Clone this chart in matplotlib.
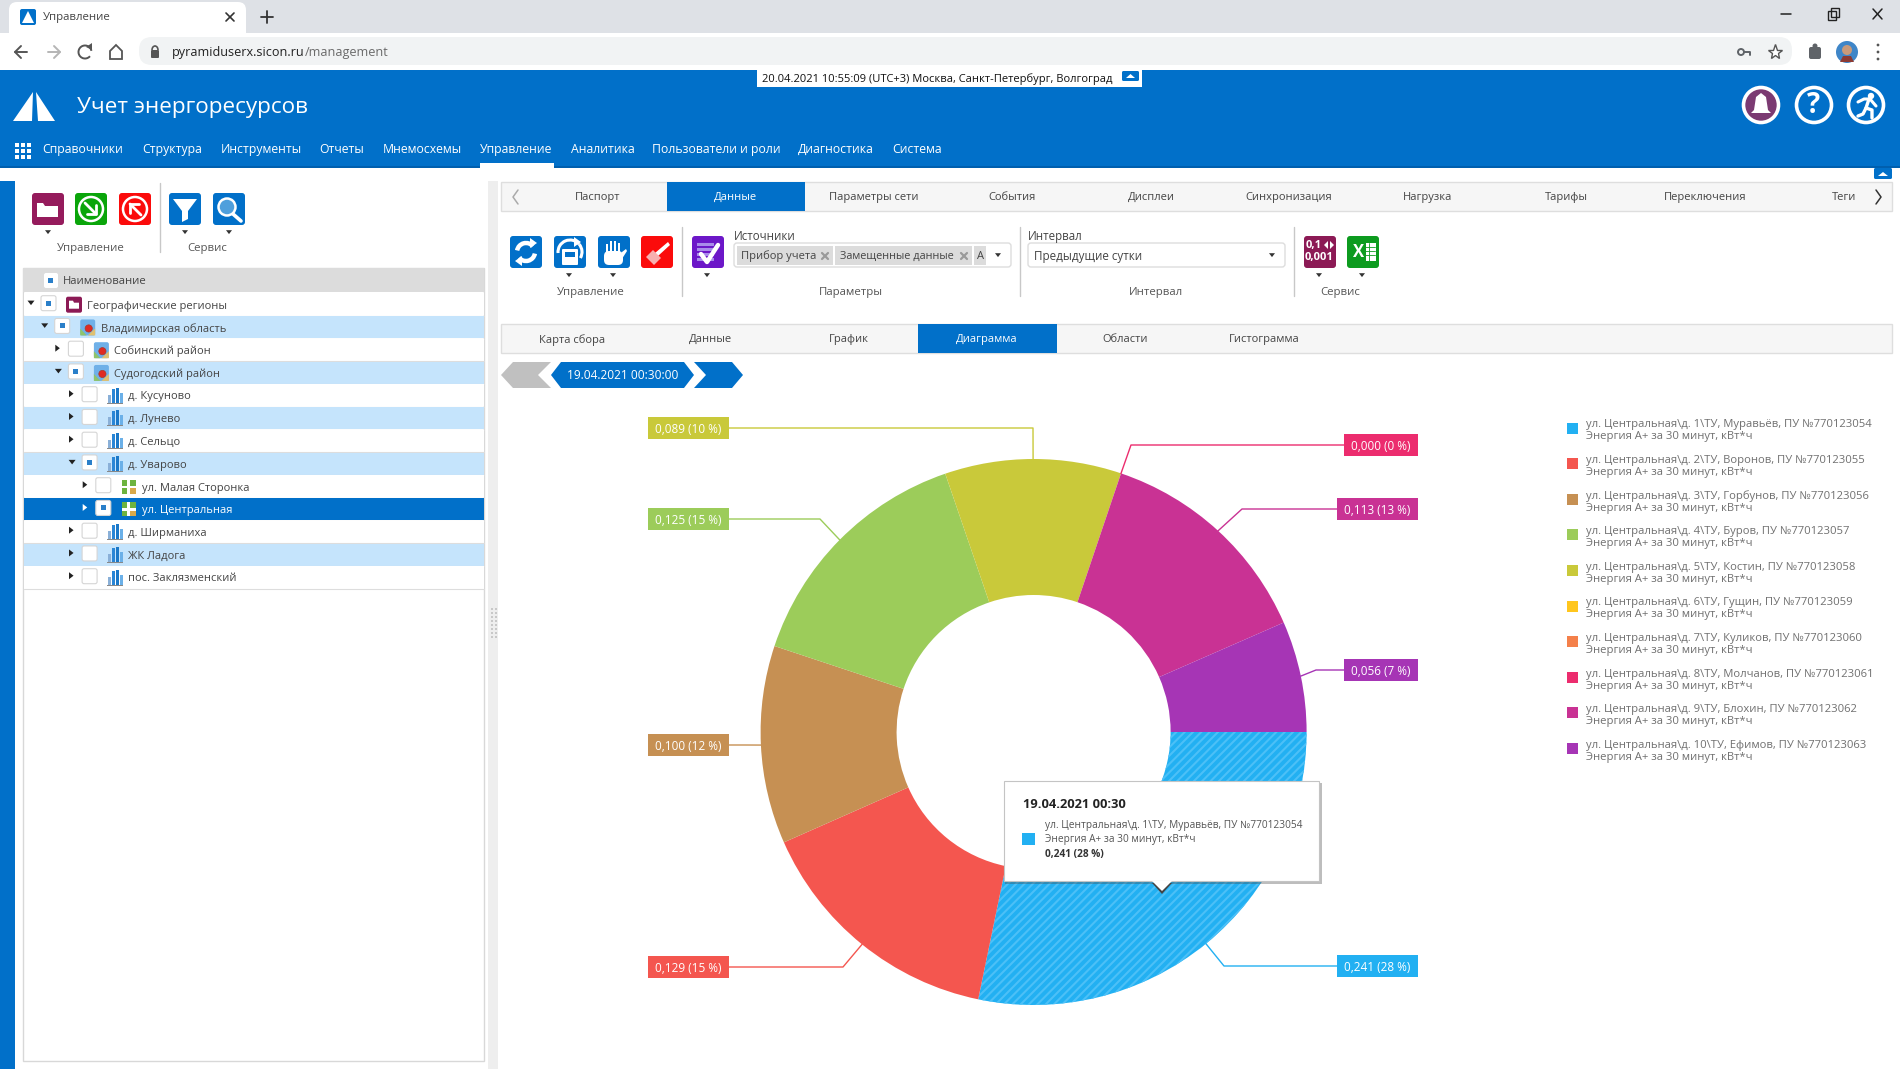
import math
import matplotlib
matplotlib.use('Agg')
from matplotlib import pyplot as plt
from matplotlib.patches import Rectangle, Polygon, Circle, FancyBboxPatch, Arc

plt.rcParams['font.family'] = ['Open Sans', 'DejaVu Sans']
plt.rcParams['hatch.linewidth'] = 1.5

# chart data
series_names = ['Муравьёв', 'Воронов', 'Горбунов', 'Буров', 'Костин', 'Гущин', 'Куликов', 'Молчанов', 'Блохин', 'Ефимов']
meter_numbers = [770123054, 770123055, 770123056, 770123057, 770123058, 770123059, 770123060, 770123061, 770123062, 770123063]
values = [0.241, 0.129, 0.100, 0.125, 0.089, 0.0, 0.0, 0.0, 0.113, 0.056]
percents = [28, 15, 12, 15, 10, 0, 0, 0, 13, 7]
colors = ['#22b0f2', '#f4564f', '#c69053', '#9ccc5a', '#c9c93a', '#ffc61e', '#f4804a', '#ec2c6e', '#c93294', '#a635b5']

menu_items = ['Справочники', 'Структура', 'Инструменты', 'Отчеты', 'Мнемосхемы', 'Управление', 'Аналитика', 'Пользователи и роли', 'Диагностика', 'Система']
top_tabs = ['Паспорт', 'Данные', 'Параметры сети', 'События', 'Дисплеи', 'Синхронизация', 'Нагрузка', 'Тарифы', 'Переключения', 'Теги']
sub_tabs = ['Карта сбора', 'Данные', 'График', 'Диаграмма', 'Области', 'Гистограмма']
tree_names = ['Географические регионы', 'Владимирская область', 'Собинский район', 'Судогодский район', 'д. Кусуново', 'д. Лунево', 'д. Сельцо', 'д. Уварово', 'ул. Малая Сторонка', 'ул. Центральная', 'д. Ширманиха', 'ЖК Ладога', 'пос. Заклязменский']

# layout, in screen pixels
menu_x = [42, 142, 221, 319, 383, 480, 571, 652, 798, 892]
top_tab_x = [598, 735, 874, 1012, 1151, 1289, 1428, 1566, 1705, 1844]
sub_tab_x = [572, 710, 849, 987, 1125, 1264]
tree_level = [0, 1, 2, 2, 3, 3, 3, 3, 4, 4, 3, 3, 3]
tree_open = [1, 1, 0, 1, 0, 0, 0, 1, 0, 0, 0, 0, 0]
tree_checked = [1, 1, 0, 1, 0, 0, 0, 1, 0, 1, 0, 0, 0]
tree_blue = [0, 1, 0, 1, 0, 1, 0, 1, 0, 0, 0, 1, 0]
tree_kind = ['f', 'r', 'r', 'r', 'b', 'b', 'b', 'b', 's', 's', 'b', 'b', 'b']
label_y = [966, 967, 745, 519, 428, None, None, 445, 509, 670]
label_left = [1337, 648, 648, 648, 648, None, None, 1344, 1337, 1344]
label_right = [1418, 729, 729, 729, 729, None, None, 1418, 1418, 1418]
elbow_x = [1224, 843, 745, 820, 1033, None, None, 1131, 1242, 1316]

W, H = 1900, 1069
cx, cy, R = 1033.6, 732, 273
BLUE = '#0170c9'
TEXT = '#555555'

fig = plt.figure(figsize=(19, 10.69), dpi=100, facecolor='white')
ax = fig.add_axes([0, 0, 1, 1], zorder=0)
ax.set_xlim(0, W)
ax.set_ylim(H, 0)
ax.axis('off')


def rect(x0, y0, x1, y1, color, edge='none', lw=0, a=ax, z=1, alpha=None):
    a.add_patch(Rectangle((x0, y0), x1 - x0, y1 - y0, facecolor=color, edgecolor=edge, linewidth=lw, zorder=z, alpha=alpha))


def rbox(x0, y0, x1, y1, color, r=3, edge='none', lw=0, a=ax, z=1):
    a.add_patch(FancyBboxPatch((x0 + r, y0 + r), x1 - x0 - 2 * r, y1 - y0 - 2 * r, boxstyle=f'round,pad={r},rounding_size={r}',
                               facecolor=color, edgecolor=edge, linewidth=lw, zorder=z))


def poly(pts, color, a=ax, z=2, closed=True, lw=0, edge='none'):
    a.add_patch(Polygon(pts, closed=closed, facecolor=color, edgecolor=edge, linewidth=lw, zorder=z))


def line(xs, ys, color, lw=1.0, a=ax, z=2):
    a.plot(xs, ys, color=color, lw=lw, zorder=z, solid_capstyle='round')


def txt(x, y, s, size=9.3, color=TEXT, ha='left', a=ax, weight='normal', z=3):
    a.text(x, y + 1.3, s, fontsize=size, color=color, ha=ha, va='center', fontweight=weight, zorder=z)


def caret_down(x, y, color='#222222', s=3.5):
    poly([(x - s, y - s * 0.6), (x + s, y - s * 0.6), (x, y + s * 0.7)], color, z=3)


def caret_right(x, y, color='#222222', s=3.5):
    poly([(x - s * 0.6, y - s), (x - s * 0.6, y + s), (x + s * 0.7, y)], color, z=3)


# browser chrome
rect(0, 0, W, 33, '#dee1e6')
rect(0, 33, W, 70, 'white')
rbox(9, 2, 246, 45, 'white', r=8)
rect(0, 33, W, 36, 'white')
rbox(20, 9, 36, 25, BLUE, r=2)
poly([(28, 11), (22, 23), (34, 23)], 'white', z=3)
txt(43, 16, 'Управление', 8.2, '#444444')
line([226, 234], [13, 21], '#333333', 1.2)
line([226, 234], [21, 13], '#333333', 1.2)
line([261, 273], [17, 17], '#333333', 1.3)
line([267, 267], [11, 23], '#333333', 1.3)
rbox(139, 37, 1792, 65, '#f1f3f4', r=13)
line([15, 27], [52, 52], '#555555', 1.4)
line([21, 15, 21], [46, 52, 58], '#555555', 1.4)
line([48, 60], [52, 52], '#b5b5b5', 1.4)
line([54, 60, 54], [46, 52, 58], '#b5b5b5', 1.4)
ax.add_patch(Arc((85, 52), 13, 13, theta1=40, theta2=350, edgecolor='#555555', lw=1.4, zorder=3))
poly([(92, 43), (92, 50), (86, 47)], '#555555')
poly([(110, 51), (116, 45), (122, 51), (122, 59), (110, 59)], 'white', lw=1.3, edge='#555555')
rbox(151, 50, 159, 58, '#555555', r=1)
ax.add_patch(Arc((155, 50), 6, 8, theta1=180, theta2=360, edgecolor='#555555', lw=1.2, zorder=3))
txt(172, 51, 'pyramiduserx.sicon.ru', 9.1, '#222222')
txt(305, 51, '/management', 9.1, '#6a6a6a')
ax.add_patch(Circle((1741, 52), 3, facecolor='none', edgecolor='#5f6368', lw=1.4, zorder=3))
line([1744, 1750, 1750], [52, 52, 55], '#5f6368', 1.4)
ax.plot([1775], [52], marker='*', ms=11, mfc='white', mec='#555555', mew=1.0, zorder=3)
rbox(1809, 47, 1821, 59, '#5f6368', r=2)
ax.add_patch(Circle((1815, 46), 2.5, facecolor='#5f6368', zorder=3))
ax.add_patch(Circle((1847, 52), 11, facecolor='#3f86c8', zorder=3))
ax.add_patch(Circle((1847, 50), 5, facecolor='#c99a7a', zorder=4))
poly([(1840, 62), (1854, 62), (1851, 56), (1843, 56)], '#8c3b34', z=4)
for yy in (45, 52, 59):
    ax.add_patch(Circle((1878, yy), 1.4, facecolor='#555555', zorder=3))
line([1781, 1791], [14, 14], '#222222', 1.1)
rect(1828, 11, 1836, 20, 'none', edge='#222222', lw=1.0, z=3)
rect(1831, 8, 1839, 17, 'none', edge='#222222', lw=1.0, z=2)
line([1873, 1882], [9, 19], '#222222', 1.1)
line([1873, 1882], [19, 9], '#222222', 1.1)

# application header
rect(0, 70, W, 168, BLUE)
rect(0, 166, W, 168, '#005fae', z=2)
rect(757, 70, 1142, 87, 'white', z=2)
txt(762, 78, '20.04.2021 10:55:09 (UTC+3) Москва, Санкт-Петербург, Волгоград', 8.05, '#111111')
rbox(1122, 71, 1139, 81, BLUE, r=1.5, z=3)
poly([(1126, 78), (1135, 78), (1130.5, 74)], 'white', z=4)
poly([(33, 92), (13, 121), (32, 121)], 'white', z=3)
poly([(36, 92), (55, 121), (38, 121)], 'white', z=3)
txt(77, 106, 'Учет энергоресурсов', 16.2, 'white')
for gx in (17, 23, 29):
    for gy in (145, 151, 157):
        rect(gx - 2.2, gy - 2.2, gx + 2.2, gy + 2.2, 'white', z=3)
for x, s in zip(menu_x, menu_items):
    txt(x, 148.5, s, 8.8, 'white')
rect(480, 163, 554, 168, 'white', z=3)
for ix, fc in zip((1761, 1814, 1866), ('#7b3a72', BLUE, BLUE)):
    ax.add_patch(Circle((ix, 105), 17.5, facecolor=fc, edgecolor='white', lw=2.6, zorder=3))
poly([(1761, 93), (1766, 97), (1768, 110), (1771, 113), (1751, 113), (1754, 110), (1756, 97)], 'white', z=4)
txt(1814, 104, '?', 20, 'white', ha='center', weight='bold', z=4)
ax.add_patch(Circle((1871, 96), 3.2, facecolor='white', zorder=4))
line([1858, 1864, 1870, 1876], [102, 99, 99, 106], 'white', 2.2, z=4)
line([1869, 1866, 1872, 1872], [99, 108, 110, 118], 'white', 2.4, z=4)
line([1866, 1863, 1858], [108, 114, 116], 'white', 2.4, z=4)
rbox(1874, 168, 1892, 179, BLUE, r=1.5)
poly([(1878, 176), (1888, 176), (1883, 172)], 'white', z=3)

# left panel
rect(0, 181, 15, H, BLUE)
rect(488, 181, 498, H, '#eeeeee')
for yy in range(608, 640, 4):
    for xx in (491, 495):
        rect(xx, yy, xx + 2, yy + 2, '#c8c8c8', z=2)


def button(x0, y0, color, size=32):
    rbox(x0, y0, x0 + size, y0 + size, color, r=3, z=2)


# toolbar of the tree
button(32, 193, '#951b5c')
poly([(37, 203), (43, 203), (45, 206), (58, 206), (58, 217), (37, 217)], 'white', z=3)
button(75, 193, '#0aa50a')
ax.add_patch(Circle((91, 209), 12, facecolor='none', edgecolor='white', lw=1.8, zorder=3))
line([85, 96], [203, 214], 'white', 2)
line([96, 96, 87], [205, 214, 214], 'white', 2)
button(119, 193, '#fb0b0b')
ax.add_patch(Circle((135, 209), 12, facecolor='none', edgecolor='white', lw=1.8, zorder=3))
line([130, 141], [204, 215], 'white', 2)
line([130, 130, 139], [213, 204, 204], 'white', 2)
button(169, 193, BLUE)
poly([(173, 199), (197, 199), (188, 211), (188, 219), (182, 222), (182, 211)], 'white', z=3)
button(213, 193, BLUE)
ax.add_patch(Circle((227, 207), 8.5, facecolor='#4f9fdc', edgecolor='white', lw=1.8, zorder=3))
line([233, 241], [214, 221], 'white', 2.6)
line([160, 160], [183, 252], '#c8c8c8', 1)
for cxx in (48, 185, 229):
    caret_down(cxx, 232, '#333333', 3)
txt(91, 247.5, 'Управление', 8.2, TEXT, ha='center')
txt(207, 247.5, 'Сервис', 8.2, TEXT, ha='center')

# tree
rect(23, 268, 484, 1061, 'white', edge='#d8d8d8', lw=1)
rect(23, 268, 484, 292, '#dcdcdc', z=2)
rbox(44, 273, 58, 288, 'white', r=2, z=3)
rect(48, 278, 53, 283, '#2a7fc9', z=4)
txt(63, 280, 'Наименование', 8.1, '#444444')


def tree_icon(x, y, kind):
    if kind == 'f':
        rbox(x - 8, y - 8, x + 8, y + 8, '#8c1a55', r=2, z=3)
        poly([(x - 5, y - 4), (x - 1, y - 4), (x, y - 2), (x + 5, y - 2), (x + 5, y + 4), (x - 5, y + 4)], 'white', z=4)
    elif kind == 'r':
        rbox(x - 7.5, y - 8, x + 7.5, y + 8, '#6fb0e8', r=2, z=3)
        poly([(x - 7.5, y + 1), (x - 1, y + 8), (x - 7.5, y + 8)], '#8fc46c', z=4)
        poly([(x, y + 8), (x + 7.5, y + 1), (x + 7.5, y + 8)], '#e0c070', z=4)
        ax.add_patch(Circle((x + 1, y + 1), 3.6, facecolor='#e02a22', edgecolor='#a83a2a', lw=0.5, zorder=5))
    elif kind == 'b':
        for dx, t, c in ((-7, -1, '#8ab0d8'), (-3, -7, '#2a86d6'), (1, -8, '#1a78c8'), (5, -3, '#6bb0e8')):
            rect(x + dx, y + t, x + dx + 3.2, y + 7, c, z=3)
        rect(x - 8, y + 7, x + 8, y + 8, '#888888', z=3)
    else:
        rect(x - 7, y - 7, x + 7, y + 7, '#6db33f', z=3)
        rect(x - 7, y - 1, x + 7, y + 1.5, 'white', z=4)
        rect(x - 1.5, y - 7, x + 1, y + 7, 'white', z=4)
        rect(x + 1, y + 1.5, x + 7, y + 7, '#d9a94a', z=4)


for i, name in enumerate(tree_names):
    y0 = 293.3 + 22.75 * i
    ym = y0 + 11.4
    selected = i == 9
    bg = BLUE if selected else ('#c5e4fc' if tree_blue[i] else 'white')
    rect(24, y0, 484, y0 + 22.2, bg, z=2)
    line([24, 484], [y0 + 22.6, y0 + 22.6], '#dddddd', 0.8, z=2)
    lv = tree_level[i] * 13.7
    if tree_open[i]:
        caret_down(31 + lv, ym - 2)
    else:
        caret_right(30 + lv, ym - 2, 'white' if selected else '#222222')
    rbox(41 + lv, ym - 9, 56 + lv, ym + 6, 'white', r=2, edge='#d5d5d5', lw=0.8, z=3)
    if tree_checked[i]:
        rect(46 + lv, ym - 4, 51 + lv, ym + 1, '#2a7fc9', z=4)
    tree_icon(74 + lv, ym, tree_kind[i])
    txt(87 + lv, ym, name, 8.0, 'white' if selected else '#444444')

# tabs
rect(501, 182, 1892, 211, '#f6f6f6', edge='#dedede', lw=1)
rect(667, 182, 805, 211, BLUE, z=2)
for x, s in zip(top_tab_x, top_tabs):
    txt(x, 196, s, 8.0, 'white' if s == 'Данные' else '#444444', ha='center')
line([518, 513, 518], [190, 197, 204], '#aaaaaa', 1.1)
line([1876, 1881, 1876], [190, 197, 204], '#333333', 1.1)

# toolbar of the data tab
button(510, 236, BLUE)
button(554, 236, BLUE)
button(598, 236, BLUE)
button(641, 236, '#fb0b0b')
button(692, 236, '#6c17c8')
ax.add_patch(Arc((526, 252), 18, 18, theta1=190, theta2=320, edgecolor='white', lw=3.2, zorder=3))
ax.add_patch(Arc((526, 252), 18, 18, theta1=10, theta2=140, edgecolor='white', lw=3.2, zorder=3))
poly([(530, 238), (530, 248), (537, 243)], 'white', z=3)
poly([(522, 256), (522, 266), (515, 261)], 'white', z=3)
ax.add_patch(Arc((570, 252), 24, 24, theta1=175, theta2=320, edgecolor='white', lw=2.2, zorder=3))
ax.add_patch(Arc((570, 252), 24, 24, theta1=-40, theta2=30, edgecolor='white', lw=2.2, zorder=3))
poly([(574, 237), (574, 247), (581, 242)], 'white', z=3)
rbox(562, 249, 578, 265, 'white', r=1, z=3)
rect(565, 252, 575, 257, BLUE, z=4)
rbox(604, 251, 623, 265, 'white', r=5, z=3)
for fx, fy in zip((605.5, 609.5, 613.5, 617.5), (244, 241, 241, 243)):
    rect(fx, fy, fx + 2.6, 254, 'white', z=3)
poly([(622, 252), (626, 249), (627, 251), (620, 262)], 'white', z=3)
poly([(668, 242), (670, 245), (658, 256), (655, 253)], 'white', z=3)
poly([(653, 250), (661, 258), (654, 265), (646, 257)], '#f7b0b0', z=3)
for ly in (243, 248, 253, 258):
    rect(697, ly, 714, ly + 3, '#a98bea', z=3)
line([701, 707, 718], [254, 262, 245], 'white', 3.2, z=4)
for cxx in (569, 613, 707, 1319, 1362):
    caret_down(cxx, 275, '#333333', 3)
line([682, 682], [227, 296], '#c8c8c8', 1)
line([1020, 1020], [227, 296], '#c8c8c8', 1)
line([1294, 1294], [227, 296], '#c8c8c8', 1)
txt(591, 291, 'Управление', 8.2, TEXT, ha='center')
txt(851, 291, 'Параметры', 8.2, TEXT, ha='center')
txt(1156, 291, 'Интервал', 8.2, TEXT, ha='center')
txt(1340, 291, 'Сервис', 8.2, TEXT, ha='center')
txt(734, 235, 'Источники', 8.3, '#444444')
txt(1028, 235, 'Интервал', 8.3, '#444444')
rbox(734, 243, 1011, 267, 'white', r=3, edge='#dddddd', lw=1)
rbox(1028, 243, 1285, 267, 'white', r=3, edge='#dddddd', lw=1)
rect(737, 246, 833, 265, '#dcdcdc', z=2)
rect(835, 246, 972, 265, '#dcdcdc', z=2)
rect(974, 246, 986, 265, '#dcdcdc', z=2)
txt(741, 255, 'Прибор учета', 8.0, '#444444')
txt(840, 255, 'Замещенные данные', 7.8, '#444444')
txt(977, 255, 'А', 8.0, '#444444')
for xx in (825, 964):
    line([xx - 3, xx + 3], [253, 259], '#9a9a9a', 1.6)
    line([xx - 3, xx + 3], [259, 253], '#9a9a9a', 1.6)
caret_down(998, 255, '#333333', 3)
txt(1034, 255, 'Предыдущие сутки', 8.4, '#444444')
caret_down(1272, 255, '#333333', 3)
button(1304, 236, '#8c1a55')
txt(1306, 244, '0,1', 8, 'white', weight='bold')
poly([(1328, 241), (1328, 249), (1324, 245)], 'white', z=3)
poly([(1330, 241), (1330, 249), (1334, 245)], 'white', z=3)
txt(1305, 256, '0,001', 8, 'white', weight='bold')
button(1347, 236, '#0d9b1f')
rect(1363, 243, 1376, 261, 'white', z=3)
for gy in (247, 251, 255):
    line([1364, 1375], [gy, gy], '#0d9b1f', 0.6, z=4)
line([1369, 1369], [243, 261], '#0d9b1f', 0.6, z=4)
rect(1351, 241, 1366, 263, '#0d9b1f', z=4)
txt(1358.5, 251, 'X', 12, 'white', ha='center', weight='bold', z=5)

rect(501, 324, 1892, 353, '#f6f6f6', edge='#dedede', lw=1)
rect(918, 324, 1057, 353, BLUE, z=2)
for x, s in zip(sub_tab_x, sub_tabs):
    txt(x, 338.5, s, 8.0, 'white' if s == 'Диаграмма' else '#444444', ha='center')
poly([(501, 375), (513, 362), (551, 362), (538, 375), (551, 388), (513, 388)], '#c0c0c0')
poly([(551, 375), (561, 362), (684, 362), (694, 375), (684, 388), (561, 388)], BLUE)
poly([(694, 362), (732, 362), (743, 375), (732, 388), (694, 388), (706, 375)], BLUE)
txt(623, 374.5, '19.04.2021 00:30:00', 8.6, 'white', ha='center')

# legend
for i, name in enumerate(series_names):
    yy = 428 + 35.6 * i
    rect(1567, yy - 5.5, 1578, yy + 5.5, colors[i], z=2)
    txt(1586, yy - 4.5, f'ул. Центральная\\д. {i + 1}\\ТУ, {name}, ПУ №{meter_numbers[i]}', 8.1, '#707070')
    txt(1586, yy + 7.5, 'Энергия А+ за 30 минут, кВт*ч', 8.1, '#707070')

# donut
pie_ax = fig.add_axes([(cx - R) / W, 1 - (cy + R) / H, 2 * R / W, 2 * R / H], zorder=1)
wedges, _ = pie_ax.pie(values, colors=colors, startangle=0, counterclock=False, radius=1,
                       wedgeprops={'width': 136 / 273, 'linewidth': 0})
pie_ax.set_xlim(-1, 1)
pie_ax.set_ylim(-1, 1)
wedges[0].set_edgecolor('#4cc0f7')
wedges[0].set_hatch('////')

# labels and tooltip above the donut
top = fig.add_axes([0, 0, 1, 1], zorder=2)
top.set_xlim(0, W)
top.set_ylim(H, 0)
top.axis('off')
total = sum(values)
cum = 0.0
for i, v in enumerate(values):
    mid = (cum + v / 2) / total * 2 * math.pi
    cum += v
    if label_y[i] is None:
        continue
    ax_x = cx + R * math.cos(mid)
    ax_y = cy + R * math.sin(mid)
    left = label_left[i] < cx
    edge_x = label_right[i] if left else label_left[i]
    top.plot([edge_x, elbow_x[i], ax_x], [label_y[i], label_y[i], ax_y], color=colors[i], lw=1.0, zorder=1)
    rect(label_left[i], label_y[i] - 11, label_right[i], label_y[i] + 11, colors[i], a=top, z=2)
    txt((label_left[i] + label_right[i]) / 2, label_y[i], f'{v:.3f} ({percents[i]} %)'.replace('.', ','), 8.5, 'white', ha='center', a=top)

rect(1005, 783, 1322, 884, '#444444', a=top, z=3, alpha=0.35)
poly([(1152, 883), (1172, 883), (1162, 894)], '#444444', a=top, z=3)
rect(1004, 781, 1319, 881, 'white', edge='#c4c4c4', lw=0.8, a=top, z=4)
poly([(1152, 881), (1172, 881), (1162, 891)], 'white', a=top, z=5)
txt(1023, 803.5, '19.04.2021 00:30', 9.3, '#222222', a=top, weight='bold', z=6)
rect(1022, 833, 1035, 845, colors[0], a=top, z=6)
txt(1045, 824.5, f'ул. Центральная\\д. 1\\ТУ, {series_names[0]}, ПУ №{meter_numbers[0]}', 7.25, '#555555', a=top, z=6)
txt(1045, 838.5, 'Энергия А+ за 30 минут, кВт*ч', 7.25, '#555555', a=top, z=6)
txt(1045, 853.5, f'{values[0]:.3f} ({percents[0]} %)'.replace('.', ','), 7.25, '#333333', a=top, weight='bold', z=6)

fig.savefig('out.png', dpi=100)
